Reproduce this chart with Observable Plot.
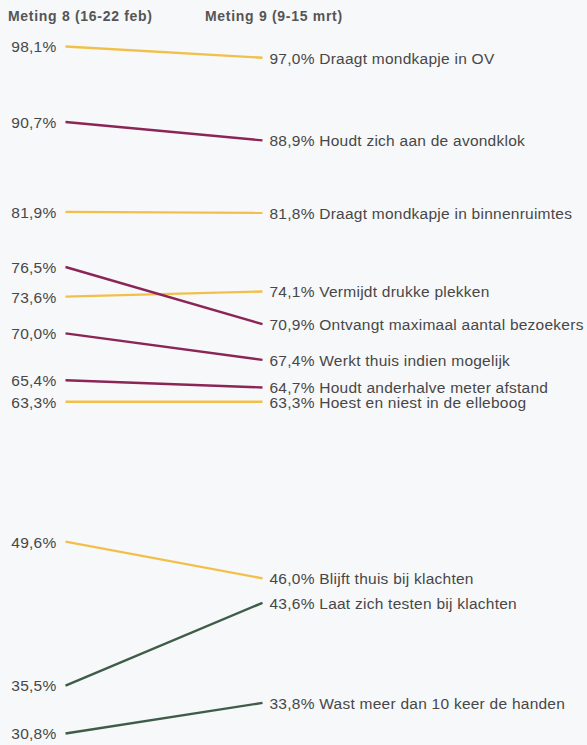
<!DOCTYPE html>
<html>
<head>
<meta charset="utf-8">
<script src="https://cdn.jsdelivr.net/npm/d3@7"></script>
<script src="https://cdn.jsdelivr.net/npm/@observablehq/plot@0.6"></script>
<style>
  html, body { margin: 0; padding: 0; background: #f7f8fa; }
  #wrap { position: relative; width: 587px; height: 745px; overflow: hidden; font-family: "Liberation Sans", Arial, sans-serif; }
  .hdr { position: absolute; top: 8px; font-size: 14px; color: #555; font-weight: bold; letter-spacing: 0.7px; }
  svg { display: block; }
</style>
</head>
<body>
<div id="wrap">
  <div class="hdr" style="left:8px">Meting 8 (16-22 feb)</div>
  <div class="hdr" style="left:205px">Meting 9 (9-15 mrt)</div>
</div>
<script>
const periods = ["Meting 8 (16-22 feb)", "Meting 9 (9-15 mrt)"];
const labels = [
  "Draagt mondkapje in OV",
  "Houdt zich aan de avondklok",
  "Draagt mondkapje in binnenruimtes",
  "Vermijdt drukke plekken",
  "Ontvangt maximaal aantal bezoekers",
  "Werkt thuis indien mogelijk",
  "Houdt anderhalve meter afstand",
  "Hoest en niest in de elleboog",
  "Blijft thuis bij klachten",
  "Laat zich testen bij klachten",
  "Wast meer dan 10 keer de handen"
];
const meting8 = [98.1, 90.7, 81.9, 73.6, 76.5, 70.0, 65.4, 63.3, 49.6, 35.5, 30.8];
const meting9 = [97.0, 88.9, 81.8, 74.1, 70.9, 67.4, 64.7, 63.3, 46.0, 43.6, 33.8];
const groups = ["geel", "paars", "geel", "geel", "paars", "paars", "paars", "geel", "geel", "groen", "groen"];
const groupNames = ["geel", "paars", "groen"];
const groupColors = ["#f2c04a", "#8a2555", "#3e5c47"];

const rows = labels.map((l, i) => ({label: l, a: meting8[i], b: meting9[i], g: groups[i]}));
const fmt = v => d3.format(".1f")(v).replace(".", ",") + "%";

const chart = Plot.plot({
  width: 587,
  height: 745,
  margin: 0,
  style: {background: "transparent", fontFamily: "'Liberation Sans', Arial, sans-serif", letterSpacing: "0.25px"},
  x: {type: "point", domain: periods, range: [65, 262], padding: 0, axis: null},
  y: {domain: [30.8, 98.1], range: [733, 46], axis: null},
  color: {domain: groupNames, range: groupColors},
  marks: [
    Plot.link(rows, {
      x1: () => periods[0], y1: "a",
      x2: () => periods[1], y2: "b",
      stroke: "g", strokeWidth: 2.4
    }),
    Plot.text(rows, {
      x: () => periods[0], y: "a", text: d => fmt(d.a),
      textAnchor: "end", dx: -9, dy: 1, fontSize: 15.5, fill: "#474747"
    }),
    Plot.text(rows, {
      x: () => periods[1], y: "b", text: d => fmt(d.b) + " " + d.label,
      textAnchor: "start", dx: 7, dy: 1, fontSize: 15.5, fill: "#474747"
    })
  ]
});
document.getElementById("wrap").appendChild(chart);
</script>
</body>
</html>
